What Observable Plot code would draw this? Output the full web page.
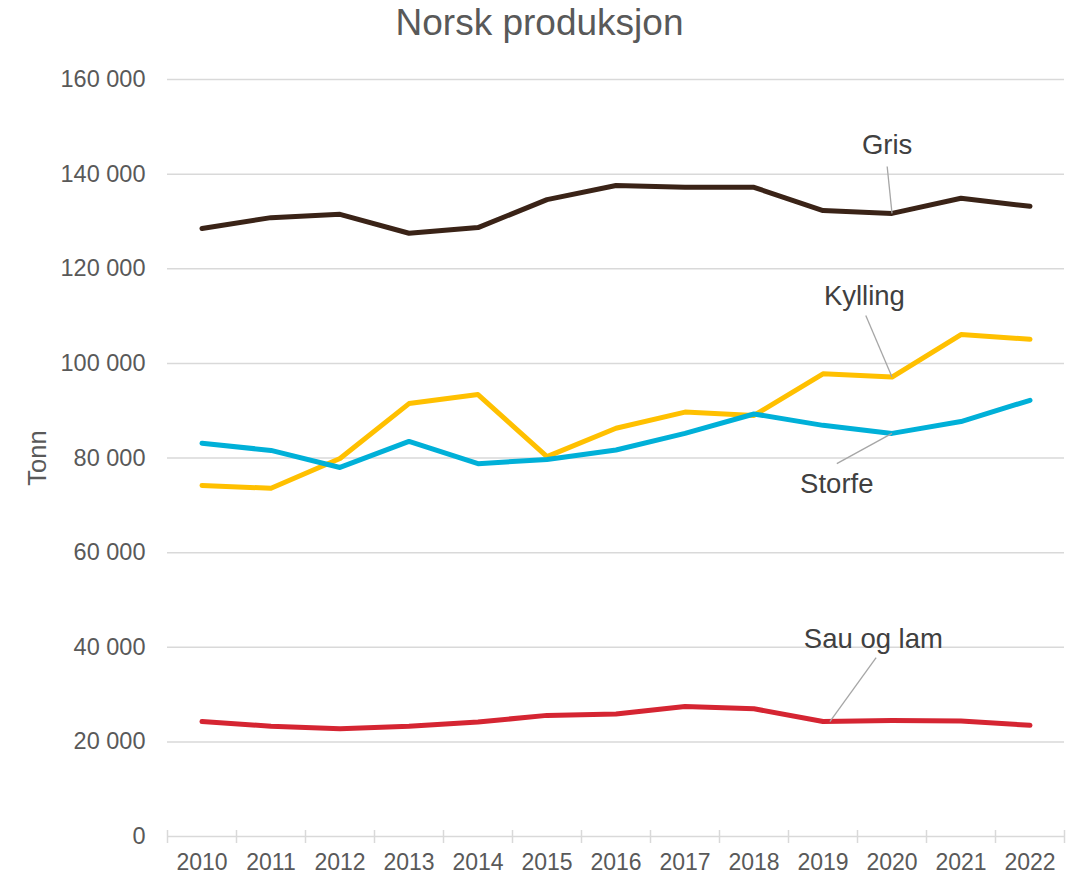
<!DOCTYPE html>
<html>
<head>
<meta charset="utf-8">
<script src="https://cdn.jsdelivr.net/npm/d3@7"></script>
<script src="https://cdn.jsdelivr.net/npm/@observablehq/plot@0.6"></script>
<style>
  body { margin: 0; background: #fff; font-family: "Liberation Sans", Arial, sans-serif; }
  #wrap { position: relative; width: 1079px; height: 875px; }
  #title { position: absolute; top: 0; left: 0; width: 1079px; text-align: center;
           font-size: 37px; line-height: 46px; color: #595959; }
  #chart { position: absolute; top: 0; left: 0; }
</style>
</head>
<body>
<div id="wrap">
  <div id="chart"></div>
  <div id="title">Norsk produksjon</div>
</div>
<script>
const years = [2010, 2011, 2012, 2013, 2014, 2015, 2016, 2017, 2018, 2019, 2020, 2021, 2022];
const gris     = [128500, 130800, 131500, 127500, 128700, 134600, 137600, 137200, 137200, 132300, 131700, 134900, 133200];
const kylling  = [74200, 73600, 79900, 91500, 93400, 80300, 86300, 89700, 89000, 97800, 97100, 106100, 105100];
const storfe   = [83100, 81600, 78000, 83500, 78800, 79700, 81700, 85200, 89300, 86900, 85200, 87700, 92200];
const sauOgLam = [24300, 23300, 22800, 23300, 24200, 25600, 25900, 27500, 27000, 24300, 24500, 24400, 23500];

const seriesNames  = ["Gris", "Kylling", "Storfe", "Sau og lam"];
const seriesValues = [gris, kylling, storfe, sauOgLam];
const seriesColors = ["#3a2317", "#ffc000", "#00b0d8", "#d52532"];

const yTicks = [0, 20000, 40000, 60000, 80000, 100000, 120000, 140000, 160000];

// annotation: label position (in data units) and the year the leader line points to
const labelNames  = ["Gris", "Kylling", "Storfe", "Sau og lam"];
const labelYear   = [2019.93, 2019.60, 2019.20, 2019.73];
const labelValue  = [146100, 114100, 74400, 41600];
const leaderFromV = [141600, 110100, 78800, 37800];
const leaderFromY = [2019.93, 2019.62, 2019.20, 2019.77];
const leaderToYear = [2020, 2020, 2020, 2019.1];
const leaderToIdx  = [10, 10, 10, 9];

const data = seriesNames.flatMap((name, s) =>
  years.map((year, i) => ({ series: name, year, value: seriesValues[s][i] })));

const labels = labelNames.map((name, i) => {
  const s = seriesNames.indexOf(name);
  return {
    name,
    x: labelYear[i], y: labelValue[i],
    x1: leaderFromY[i], y1: leaderFromV[i],
    x2: leaderToYear[i], y2: seriesValues[s][leaderToIdx[i]]
  };
});

const boundaries = [...years.map(y => y - 0.5), years[years.length - 1] + 0.5];
const fmt = d => d3.format(",")(d).replace(/,/g, " ");

const chart = Plot.plot({
  width: 1079,
  height: 875,
  marginTop: 79,
  marginBottom: 39,
  marginLeft: 167,
  marginRight: 15,
  style: { fontFamily: "Liberation Sans, Arial, sans-serif", fontSize: "23.5px", color: "#595959", background: "#fff" },
  x: { type: "linear", domain: [2009.5, 2022.5] },
  y: { domain: [0, 160000] },
  color: { domain: seriesNames, range: seriesColors },
  marks: [
    Plot.gridY(yTicks, { stroke: "#d9d9d9", strokeOpacity: 1, strokeWidth: 1.5 }),
    Plot.ruleX(boundaries, { y1: 0, y2: 0, insetTop: -6, insetBottom: -7, stroke: "#d9d9d9", strokeWidth: 1.5 }),
    Plot.axisY(yTicks, { tickSize: 0, tickPadding: 22, tickFormat: fmt, label: null, fill: "#595959" }),
    Plot.axisX(years, { tickSize: 0, tickPadding: 17, tickFormat: d => String(d), label: null, fill: "#595959", fontSize: 23 }),
    Plot.line(data, { x: "year", y: "value", z: "series", stroke: "series", strokeWidth: 5,
                      strokeLinecap: "round", strokeLinejoin: "round" }),
    Plot.link(labels, { x1: "x1", y1: "y1", x2: "x2", y2: "y2", stroke: "#a6a6a6", strokeWidth: 1.3 }),
    Plot.text(labels, { x: "x", y: "y", text: "name", fontSize: 27.5, fill: "#404040", lineAnchor: "middle" }),
    Plot.text(["Tonn"], { frameAnchor: "left", dx: -130, rotate: -90, text: d => d, textAnchor: "middle",
                          lineAnchor: "middle", fontSize: 25.5, fill: "#595959" })
  ]
});
document.getElementById("chart").appendChild(chart);
</script>
</body>
</html>
